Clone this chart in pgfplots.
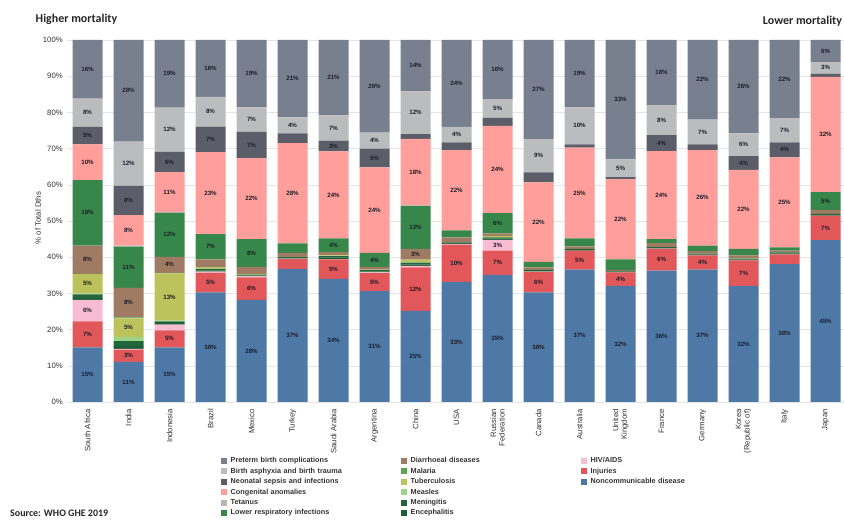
\documentclass[border=0pt]{standalone}
\usepackage{pgfplots}
\pgfplotsset{compat=1.18}
\usepackage{pgfplotstable}
\usepackage{fontspec}
\setmainfont{Liberation Sans}
\newfontfamily\titlefont{Carlito}

% segment colours (bottom to top of each bar)
\definecolor{cNCD}{HTML}{4E79A7}
\definecolor{cInj}{HTML}{E2575A}
\definecolor{cHIV}{HTML}{F9BDD3}
\definecolor{cEnc}{HTML}{1B5E37}
\definecolor{cMen}{HTML}{22663C}
\definecolor{cMea}{HTML}{9ED486}
\definecolor{cTB}{HTML}{BDC35C}
\definecolor{cMal}{HTML}{5BA550}
\definecolor{cDia}{HTML}{A07B63}
\definecolor{cLRI}{HTML}{38874A}
\definecolor{cTet}{HTML}{BDB3B0}
\definecolor{cCon}{HTML}{FF9E9B}
\definecolor{cNeo}{HTML}{5B5E68}
\definecolor{cAsp}{HTML}{BBBCBE}
\definecolor{cPre}{HTML}{787F8F}
\definecolor{labtext}{HTML}{1C1C28}
\definecolor{axtext}{HTML}{333333}

% share of total deaths (%), one row per country
\pgfplotstableread{
x  NCD  Inj  HIV  Enc  Men  Mea  TB   Mal  Dia  LRI  Tet  Con  Neo  Asp  Pre
0  15.1 7.2  5.9  0.5  1.0  0.3  5.3  0.1  7.8  18.1 0.0  9.9  4.8  7.8  16.2
1  11.1 3.4  0.2  0.8  1.3  1.2  5.1  0.3  8.1  11.4 0.3  8.4  8.1  12.2 28.1
2  15.1 4.7  1.6  0.4  0.5  0.2  13.0 0.2  4.4  12.2 0.1  11.1 5.6  12.2 18.7
3  30.3 5.4  0.3  0.3  0.4  0.1  0.3  0.1  2.2  7.0  0.0  22.6 7.1  8.2  15.7
4  28.2 6.2  0.3  0.2  0.3  0.0  0.2  0.0  1.9  7.7  0.0  22.4 7.2  6.8  18.6
5  36.8 2.7  0.1  0.2  0.2  0.0  0.1  0.0  1.1  2.6  0.0  27.7 2.7  4.4  21.4
6  34.0 5.4  0.1  0.4  0.4  0.1  0.2  0.0  0.8  3.8  0.0  24.0 3.0  7.0  20.8
7  30.6 5.0  0.2  0.3  0.3  0.0  0.2  0.0  0.7  3.9  0.0  23.6 5.2  4.4  25.6
8  25.2 12.0 0.4  0.4  0.5  0.1  0.7  0.0  3.0  11.9 0.1  18.4 1.3  11.8 14.2
9  33.2 10.3 0.2  0.2  0.2  0.0  0.0  0.0  1.4  1.9  0.0  22.2 2.1  4.3  24.0
10 35.1 6.7  3.0  0.3  0.4  0.0  0.4  0.0  0.7  5.6  0.0  24.1 2.2  5.2  16.3
11 30.3 5.6  0.1  0.2  0.3  0.0  0.0  0.0  0.7  1.5  0.0  22.0 2.7  9.2  27.4
12 36.6 5.2  0.0  0.2  0.3  0.0  0.0  0.0  0.7  2.2  0.0  25.1 0.9  10.2 18.6
13 32.1 3.7  0.0  0.2  0.2  0.0  0.0  0.0  0.3  2.9  0.0  22.2 0.5  4.9  33.0
14 36.3 6.0  0.1  0.2  0.2  0.0  0.0  0.0  1.1  1.1  0.0  24.3 4.4  8.3  18.0
15 36.6 3.9  0.0  0.2  0.3  0.0  0.0  0.0  0.7  1.5  0.0  26.4 1.6  6.8  22.0
16 32.1 7.0  0.0  0.2  0.3  0.0  0.1  0.0  0.8  1.8  0.0  21.8 3.8  6.3  25.8
17 38.1 2.7  0.0  0.2  0.3  0.0  0.0  0.0  0.5  0.9  0.0  24.9 4.1  6.7  21.6
18 44.7 6.8  0.0  0.2  0.3  0.0  0.0  0.0  1.1  4.9  0.0  31.8 0.9  3.2  6.1
}\deaths

\pgfplotsset{seg/.style={fill=#1, draw=none}}

\begin{document}
\begin{tikzpicture}
\path[use as bounding box] (0,0) rectangle (844bp,521bp);

\begin{axis}[
  at={(67bp,119bp)}, anchor=south west,
  scale only axis, width=777bp, height=362bp,
  ybar stacked, bar width=30bp,
  xmin=-0.5, xmax=18.45, ymin=0, ymax=100,
  axis line style={draw=none},
  major tick length=0pt,
  ymajorgrids, major grid style={draw=black!10, line width=0.5bp},
  /pgf/number format/assume math mode=true,
  xtick={0,...,18},
  xticklabels={South Africa,India,Indonesia,Brazil,Mexico,Turkey,Saudi Arabia,Argentina,China,USA,{Russian\\Federation},Canada,Australia,{United\\Kingdom},France,Germany,{Korea\\(Republic of)},Italy,Japan},
  xticklabel style={yshift=-7bp, rotate=90, anchor=east, align=right, inner sep=0pt,
    font=\fontsize{7.8}{8.6}\selectfont, text=axtext},
  ytick={0,10,...,100},
  yticklabels={0\%,10\%,20\%,30\%,40\%,50\%,60\%,70\%,80\%,90\%,100\%},
  yticklabel style={inner sep=0pt, xshift=-4bp, font=\fontsize{7.8}{8.6}\selectfont, text=axtext},
  ylabel={\% of Total Dths},
  every axis y label/.style={at={(axis description cs:-0.0373,0.508)}, rotate=90, anchor=center,
    font=\fontsize{7.8}{8.6}\selectfont, text=axtext},
  visualization depends on=rawy \as \rawy,
  nodes near coords={\ifdim\rawy pt<3pt\else\pgfmathprintnumber[fixed,precision=0,assume math mode=true]{\rawy}\%\fi},
  every node near coord/.append style={anchor=center, inner sep=0pt,
    font=\bfseries\fontsize{6.2}{7}\selectfont, text=labtext},
]
\addplot[seg=cNCD] table[x=x, y=NCD] {\deaths};
\addplot[seg=cInj] table[x=x, y=Inj] {\deaths};
\addplot[seg=cHIV] table[x=x, y=HIV] {\deaths};
\addplot[seg=cEnc] table[x=x, y=Enc] {\deaths};
\addplot[seg=cMen] table[x=x, y=Men] {\deaths};
\addplot[seg=cMea] table[x=x, y=Mea] {\deaths};
\addplot[seg=cTB]  table[x=x, y=TB]  {\deaths};
\addplot[seg=cMal] table[x=x, y=Mal] {\deaths};
\addplot[seg=cDia] table[x=x, y=Dia] {\deaths};
\addplot[seg=cLRI] table[x=x, y=LRI] {\deaths};
\addplot[seg=cTet] table[x=x, y=Tet] {\deaths};
\addplot[seg=cCon] table[x=x, y=Con] {\deaths};
\addplot[seg=cNeo] table[x=x, y=Neo] {\deaths};
\addplot[seg=cAsp] table[x=x, y=Asp] {\deaths};
\addplot[seg=cPre] table[x=x, y=Pre] {\deaths};
\end{axis}

% legend, three columns filled top to bottom
\begin{axis}[
  at={(67bp,119bp)}, anchor=south west,
  scale only axis, width=777bp, height=362bp,
  hide axis, xmin=0, xmax=1, ymin=0, ymax=1,
  legend columns=3,
  legend image code/.code={\fill[#1, draw=none] (0bp,-3bp) rectangle (6bp,3bp); \path (8.4bp,0bp);},
  legend style={at={(0.1986,-0.1486)}, anchor=north west, draw=none, fill=none,
    inner sep=0pt, outer sep=0pt, row sep=0pt, column sep=0pt,
    font=\bfseries\fontsize{7.3}{8}\selectfont, text=axtext,
    nodes={text width=169.6bp, minimum height=10.4bp, inner xsep=1bp, inner ysep=0pt,
      text height=5.3bp, text depth=1.5bp, align=left}},
]
\addlegendimage{draw=none, fill=cPre}\addlegendentry{Preterm birth complications}
\addlegendimage{draw=none, fill=cDia}\addlegendentry{Diarrhoeal diseases}
\addlegendimage{draw=none, fill=cHIV}\addlegendentry{HIV/AIDS}
\addlegendimage{draw=none, fill=cAsp}\addlegendentry{Birth asphyxia and birth trauma}
\addlegendimage{draw=none, fill=cMal}\addlegendentry{Malaria}
\addlegendimage{draw=none, fill=cInj}\addlegendentry{Injuries}
\addlegendimage{draw=none, fill=cNeo}\addlegendentry{Neonatal sepsis and infections}
\addlegendimage{draw=none, fill=cTB}\addlegendentry{Tuberculosis}
\addlegendimage{draw=none, fill=cNCD}\addlegendentry{Noncommunicable disease}
\addlegendimage{draw=none, fill=cCon}\addlegendentry{Congenital anomalies}
\addlegendimage{draw=none, fill=cMea}\addlegendentry{Measles}
\addlegendimage{empty legend}\addlegendentry{}
\addlegendimage{draw=none, fill=cTet}\addlegendentry{Tetanus}
\addlegendimage{draw=none, fill=cMen}\addlegendentry{Meningitis}
\addlegendimage{empty legend}\addlegendentry{}
\addlegendimage{draw=none, fill=cLRI}\addlegendentry{Lower respiratory infections}
\addlegendimage{draw=none, fill=cEnc}\addlegendentry{Encephalitis}
\addlegendimage{empty legend}\addlegendentry{}
\end{axis}

\node[anchor=center, font=\titlefont\bfseries\fontsize{12}{14}\selectfont, text=black!85]
  at (76.5bp,502bp) {Higher mortality};
\node[anchor=center, font=\titlefont\bfseries\fontsize{12}{14}\selectfont, text=black!85]
  at (802.5bp,500bp) {Lower mortality};
\node[anchor=west, inner sep=0pt, font=\titlefont\bfseries\fontsize{10}{12}\selectfont, text=black!85]
  at (10bp,7.5bp) {Source: WHO GHE 2019};
\end{tikzpicture}
\end{document}
